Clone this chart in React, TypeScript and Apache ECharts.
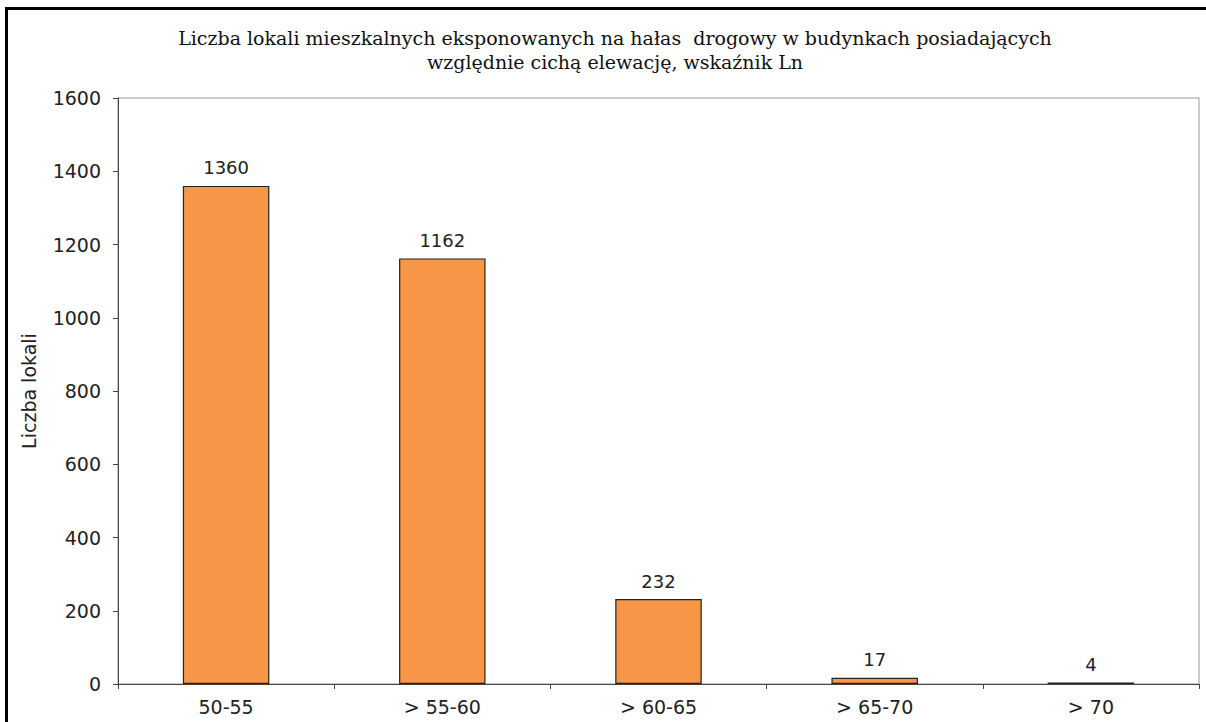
import React, { useEffect, useRef } from "react";
import * as echarts from "echarts";

const categories = ["50-55", "> 55-60", "> 60-65", "> 65-70", "> 70"];
const values = [1360, 1162, 232, 17, 4];
const titleLines = [
  "Liczba lokali mieszkalnych eksponowanych na hałas  drogowy w budynkach posiadających",
  "względnie cichą elewację, wskaźnik Ln",
];
const yAxisName = "Liczba lokali";

export default function App() {
  const ref = useRef<HTMLDivElement>(null);
  useEffect(() => {
    if (!ref.current) return;
    const chart = echarts.init(ref.current, null, { renderer: "svg" });
    chart.setOption({
      animation: false,
      backgroundColor: "#fff",
      title: {
        text: titleLines.join("\n"),
        left: 610,
        textAlign: "center",
        top: 21,
        textStyle: {
          fontFamily: "DejaVu Serif",
          fontSize: 19,
          fontWeight: "normal",
          color: "#111",
          lineHeight: 24,
        },
      },
      grid: { left: 118, top: 98, right: 7, bottom: 38, show: true, borderColor: "#999", borderWidth: 1 },
      xAxis: {
        type: "category",
        data: categories,
        axisLine: { show: true, lineStyle: { color: "#444", width: 1 } },
        axisTick: { show: true, alignWithLabel: false, length: 5, lineStyle: { color: "#444" } },
        axisLabel: { color: "#222", fontFamily: "DejaVu Sans", fontSize: 19, margin: 13 },
        splitLine: { show: false },
      },
      yAxis: {
        type: "value",
        min: 0,
        max: 1600,
        interval: 200,
        name: yAxisName,
        nameLocation: "middle",
        nameGap: 80,
        nameTextStyle: { color: "#222", fontFamily: "DejaVu Sans", fontSize: 19 },
        axisLine: { show: true, lineStyle: { color: "#444", width: 1 } },
        axisTick: { show: true, length: 5, lineStyle: { color: "#444" } },
        axisLabel: {
          color: "#222",
          fontFamily: "DejaVu Sans",
          fontSize: 19,
          margin: 17,
          formatter: (v: number) => String(v),
        },
        splitLine: { show: false },
      },
      series: [
        {
          type: "bar",
          data: values,
          barCategoryGap: "60%",
          itemStyle: { color: "#F79646", borderColor: "#222", borderWidth: 1.2 },
          label: {
            show: true,
            position: "top",
            distance: 9,
            color: "#222",
            fontFamily: "DejaVu Sans",
            fontSize: 18,
          },
        },
      ],
    });
    return () => chart.dispose();
  }, []);
  return (
    <div style={{ position: "fixed", left: 0, top: 0, width: 1206, height: 722, background: "#fff", overflow: "hidden" }}>
      <div ref={ref} style={{ position: "absolute", left: 0, top: 0, width: 1206, height: 722 }} />
      <div
        style={{
          position: "absolute",
          left: 5,
          top: 7,
          width: 1220,
          height: 740,
          border: "3px solid #000",
          pointerEvents: "none",
        }}
      />
    </div>
  );
}
